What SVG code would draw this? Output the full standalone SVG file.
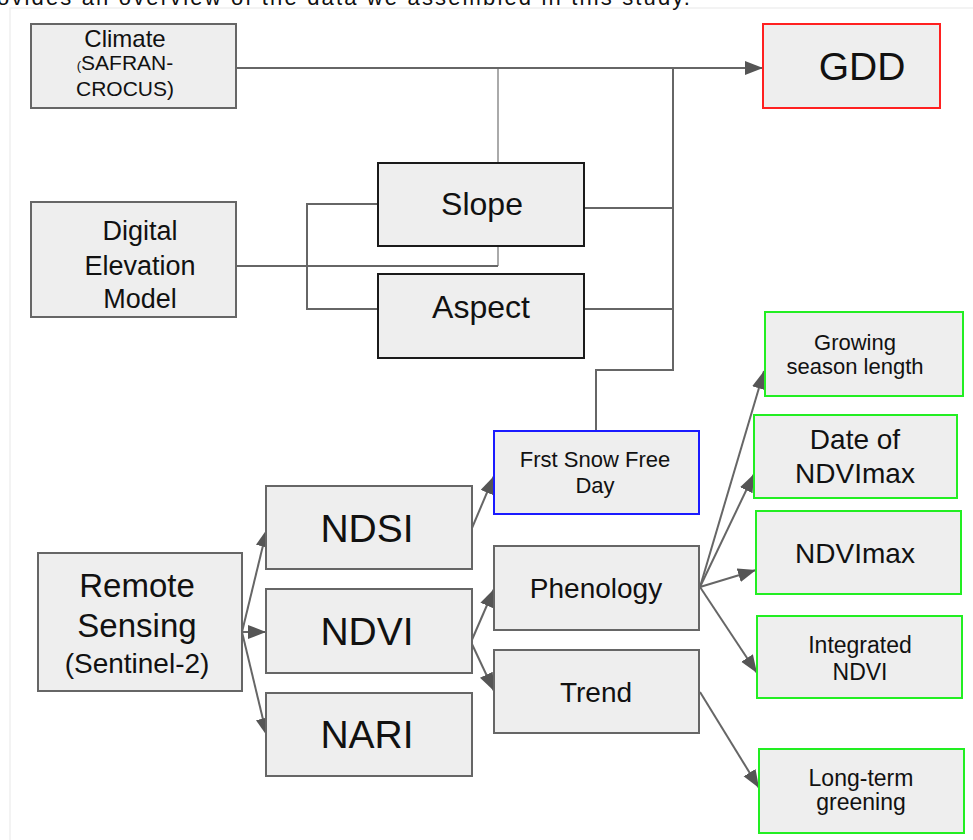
<svg xmlns="http://www.w3.org/2000/svg" width="973" height="840" viewBox="0 0 973 840">
<defs>
<style>
text{font-family:"Liberation Sans",Arial,sans-serif;fill:#111;text-anchor:middle}
.box{fill:#eeeeee;stroke:#666;stroke-width:2}
.dark{fill:#eeeeee;stroke:#1a1a1a;stroke-width:2}
.red{fill:#eeeeee;stroke:#ff2020;stroke-width:2}
.blue{fill:#eeeeee;stroke:#1a1aff;stroke-width:2}
.green{fill:#eeeeee;stroke:#22ee22;stroke-width:2}
.c{fill:none;stroke:#666;stroke-width:2}
.cl{fill:none;stroke:#aaa;stroke-width:2}
.a{fill:none;stroke:#666;stroke-width:2;marker-end:url(#ah)}
</style>
<marker id="ah" markerUnits="userSpaceOnUse" markerWidth="20" markerHeight="16" refX="18" refY="7" orient="auto">
<path d="M0,0 L18,7 L0,14 z" fill="#555"/>
</marker>
</defs>
<rect width="973" height="840" fill="#fff"/>
<rect x="10" y="8" width="975" height="845" fill="none" stroke="#f0f0f0" stroke-width="1.5"/>
<text x="-3" y="5" style="font-size:22px;text-anchor:start" textLength="693">ovides an overview of the data we assembled in this study.</text>

<g id="connectors">
<path class="cl" d="M498,68 V266"/>
<path class="a" d="M236,68 H763"/>
<path class="c" d="M236,266 H498"/>
<path class="c" d="M378,204 H307 V309 H378"/>
<path class="c" d="M673,68 V370 H596 V431"/>
<path class="c" d="M584,208 H673"/>
<path class="c" d="M584,309 H673"/>
<path class="a" d="M242,632 L267,529"/>
<path class="a" d="M242,632 H266"/>
<path class="a" d="M242,632 L267,736"/>
<path class="a" d="M472,528 L494,476"/>
<path class="a" d="M471,642 L494,589"/>
<path class="a" d="M471,642 L494,691"/>
<path class="a" d="M700,587 L764,371"/>
<path class="a" d="M700,587 L754,474"/>
<path class="a" d="M700,587 L756,570"/>
<path class="a" d="M700,587 L757,673"/>
<path class="a" d="M700,692 L759,788"/>
</g>

<g id="climate">
<rect class="box" x="31" y="24" width="205" height="84"/>
<text x="125" y="47" style="font-size:24px">Climate</text>
<text x="125" y="70" style="font-size:21px"><tspan style="font-size:13px">(</tspan>SAFRAN-</text>
<text x="125" y="96" style="font-size:21px">CROCUS)</text>
</g>
<g id="gdd">
<rect class="red" x="763" y="24" width="177" height="84"/>
<text x="862" y="80" style="font-size:39px">GDD</text>
</g>
<g id="dem">
<rect class="box" x="31" y="202" width="205" height="115"/>
<text x="140" y="240" style="font-size:27px">Digital</text>
<text x="140" y="275" style="font-size:27px">Elevation</text>
<text x="140" y="308" style="font-size:27px">Model</text>
</g>
<g id="slope">
<rect class="dark" x="378" y="163" width="206" height="83"/>
<text x="482" y="215" style="font-size:32px">Slope</text>
</g>
<g id="aspect">
<rect class="dark" x="378" y="274" width="206" height="84"/>
<text x="481" y="318" style="font-size:32px">Aspect</text>
</g>
<g id="fsfd">
<rect class="blue" x="494" y="431" width="205" height="83"/>
<text x="595" y="467" style="font-size:22px">Frst Snow Free</text>
<text x="595" y="493" style="font-size:22px">Day</text>
</g>
<g id="remote">
<rect class="box" x="38" y="553" width="204" height="138"/>
<text x="137" y="597" style="font-size:33px">Remote</text>
<text x="137" y="637" style="font-size:33px">Sensing</text>
<text x="137" y="673" style="font-size:28px">(Sentinel-2)</text>
</g>
<g id="ndsi">
<rect class="box" x="266" y="486" width="206" height="83"/>
<text x="367" y="542" style="font-size:39px">NDSI</text>
</g>
<g id="ndvi">
<rect class="box" x="266" y="589" width="206" height="84"/>
<text x="367" y="645" style="font-size:39px">NDVI</text>
</g>
<g id="nari">
<rect class="box" x="266" y="693" width="206" height="83"/>
<text x="367" y="748" style="font-size:39px">NARI</text>
</g>
<g id="phenology">
<rect class="box" x="494" y="546" width="205" height="84"/>
<text x="596" y="598" style="font-size:28px">Phenology</text>
</g>
<g id="trend">
<rect class="box" x="494" y="650" width="205" height="83"/>
<text x="596" y="702" style="font-size:28px">Trend</text>
</g>
<g id="growing">
<rect class="green" x="765" y="312" width="198" height="84"/>
<text x="855" y="350" style="font-size:22px">Growing</text>
<text x="855" y="374" style="font-size:22px">season length</text>
</g>
<g id="date-ndvimax">
<rect class="green" x="754" y="415" width="203" height="83"/>
<text x="855" y="449" style="font-size:28px">Date of</text>
<text x="855" y="483" style="font-size:28px">NDVImax</text>
</g>
<g id="ndvimax">
<rect class="green" x="756" y="511" width="205" height="83"/>
<text x="855" y="563" style="font-size:28px">NDVImax</text>
</g>
<g id="integrated">
<rect class="green" x="757" y="616" width="205" height="82"/>
<text x="860" y="653" style="font-size:23px">Integrated</text>
<text x="860" y="680" style="font-size:23px">NDVI</text>
</g>
<g id="longterm">
<rect class="green" x="759" y="749" width="205" height="84"/>
<text x="861" y="786" style="font-size:23px">Long-term</text>
<text x="861" y="810" style="font-size:23px">greening</text>
</g>
</svg>
